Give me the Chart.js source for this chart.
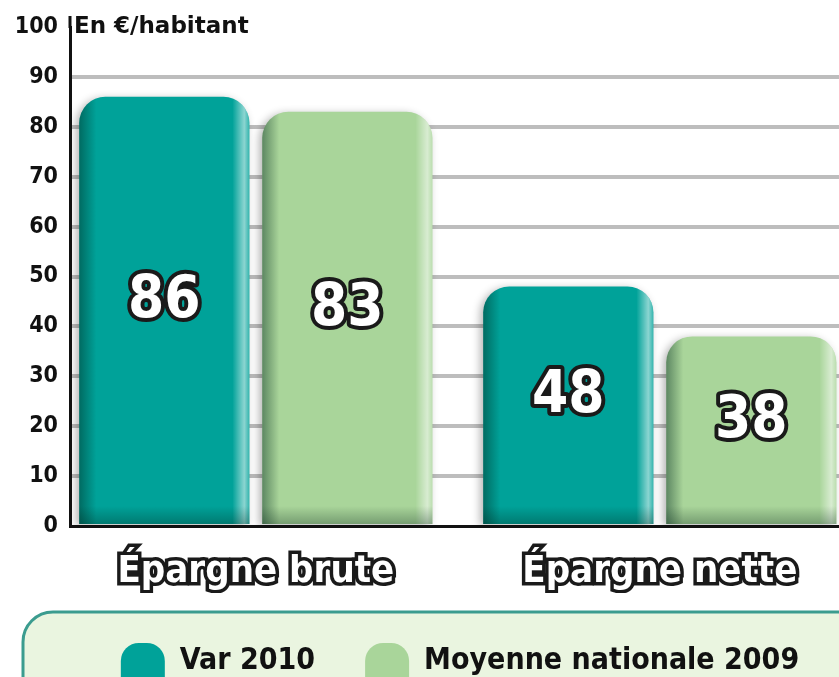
<!DOCTYPE html>
<html lang="fr">
<head>
<meta charset="utf-8">
<title>Épargne brute et nette</title>
<script src="https://cdn.jsdelivr.net/npm/chart.js@4/dist/chart.umd.min.js"></script>
<style>
  html, body { margin: 0; padding: 0; background: #fff; overflow: hidden; }
</style>
</head>
<body>
<canvas id="chart" width="920" height="689"></canvas>
<script>
// Data
const categories = ["Épargne brute", "Épargne nette"];
const seriesNames = ["Var 2010", "Moyenne nationale 2009"];
const var2010 = [86, 48];
const moyenne2009 = [83, 38];
const unitLabel = "En €/habitant";

const FONT = "'DejaVu Sans Condensed', 'Liberation Sans Narrow', Roboto, sans-serif";
const TEAL = "#00a299";
const GREEN = "#a9d59a";

// rounded box behind the legend
const legendBox = {
    id: "legendBox",
    beforeDraw(chart) {
        const lg = chart.legend, ctx = chart.ctx;
        if (!lg) return;
        ctx.save();
        ctx.beginPath();
        ctx.roundRect(23, lg.top + 19, chart.width - 46, lg.height + 60, 30);
        ctx.fillStyle = "#eaf5e0";
        ctx.fill();
        ctx.lineWidth = 3;
        ctx.strokeStyle = "#3b9c8f";
        ctx.stroke();
        ctx.restore();
    }
};

// soft shadow on bars
const barShadow = {
    id: "barShadow",
    beforeDatasetDraw(chart) {
        const ctx = chart.ctx;
        ctx.save();
        ctx.shadowColor = "rgba(0,0,0,0.3)";
        ctx.shadowBlur = 8;
        ctx.shadowOffsetX = -3;
        ctx.shadowOffsetY = 2;
    },
    afterDatasetDraw(chart) {
        chart.ctx.restore();
    }
};

// shading on the bars, unit title, value labels
const textLayer = {
    id: "textLayer",
    afterDatasetsDraw(chart) {
        const ctx = chart.ctx;
        const y = chart.scales.y;
        ctx.save();

        chart.data.datasets.forEach((ds, di) => {
            chart.getDatasetMeta(di).data.forEach((bar) => {
                const left = bar.x - bar.width / 2;
                const g = ctx.createLinearGradient(left, 0, left + bar.width, 0);
                g.addColorStop(0, "rgba(0,40,30,0.45)");
                g.addColorStop(0.1, "rgba(0,40,30,0)");
                g.addColorStop(0.9, "rgba(255,255,255,0)");
                g.addColorStop(0.97, "rgba(255,255,255,0.55)");
                g.addColorStop(1, "rgba(255,255,255,0.2)");
                ctx.beginPath();
                ctx.roundRect(left, bar.y, bar.width, bar.base - bar.y, [26, 26, 0, 0]);
                ctx.fillStyle = g;
                ctx.fill();
                const gb = ctx.createLinearGradient(0, bar.base - 18, 0, bar.base);
                gb.addColorStop(0, "rgba(0,30,20,0)");
                gb.addColorStop(1, "rgba(0,30,20,0.3)");
                ctx.fillStyle = gb;
                ctx.fillRect(left, bar.base - 18, bar.width, 18);
            });
        });

        // y axis line runs a little above the top tick
        const top = y.getPixelForValue(100);
        ctx.fillStyle = "#111";
        ctx.fillRect(chart.chartArea.left - 1.5, top - 11, 3, 12);

        ctx.font = "bold 23px 'DejaVu Sans', sans-serif";
        ctx.textBaseline = "middle";
        ctx.textAlign = "left";
        ctx.fillText(unitLabel, chart.chartArea.left + 4, top);

        ctx.font = "bold 58px " + FONT;
        ctx.textAlign = "center";
        ctx.lineJoin = "round";
        chart.data.datasets.forEach((ds, di) => {
            chart.getDatasetMeta(di).data.forEach((bar, i) => {
                const cy = (bar.y + bar.base) / 2 - 8;
                ctx.lineWidth = 8;
                ctx.strokeStyle = "#1a1a1a";
                ctx.strokeText(ds.data[i].y, bar.x, cy);
                ctx.fillStyle = "#fff";
                ctx.fillText(ds.data[i].y, bar.x, cy);
            });
        });
        ctx.restore();
    }
};

new Chart(document.getElementById("chart").getContext("2d"), {
    type: "bar",
    data: {
        datasets: [{
            label: seriesNames[0],
            data: var2010.map((v, i) => ({ x: i, y: v })),
            backgroundColor: TEAL
        }, {
            label: seriesNames[1],
            data: moyenne2009.map((v, i) => ({ x: i, y: v })),
            backgroundColor: GREEN
        }]
    },
    options: {
        responsive: false,
        animation: false,
        layout: { padding: { top: 27 } },
        datasets: {
            bar: {
                categoryPercentage: 0.906,
                barPercentage: 0.93,
                borderRadius: { topLeft: 26, topRight: 26 },
                borderSkipped: "bottom"
            }
        },
        scales: {
            x: {
                type: "linear",
                offset: false,
                min: -0.46,
                max: 1.644,
                afterBuildTicks: (s) => { s.ticks = categories.map((c, i) => ({ value: i })); },
                afterFit: (s) => { s.height = 67; },
                grid: { display: false },
                border: { color: "#111", width: 3 },
                ticks: {
                    autoSkip: false,
                    maxRotation: 0,
                    padding: 15,
                    color: "#fff",
                    textStrokeColor: "#1a1a1a",
                    textStrokeWidth: 7,
                    font: { family: FONT, size: 38, weight: "bold" },
                    callback: (v) => categories[v]
                }
            },
            y: {
                min: 0,
                max: 100,
                afterFit: (s) => { s.width = 70; },
                grid: {
                    drawTicks: false,
                    lineWidth: 4,
                    color: (c) => (c.tick.value === 0 || c.tick.value === 100) ? "rgba(0,0,0,0)" : "#bdbdbd"
                },
                border: { color: "#111", width: 3 },
                ticks: {
                    stepSize: 10,
                    padding: 12,
                    color: "#111",
                    font: { family: FONT, size: 23, weight: "bold" }
                }
            }
        },
        plugins: {
            legend: {
                position: "bottom",
                labels: {
                    boxWidth: 44,
                    boxHeight: 36,
                    padding: 50,
                    useBorderRadius: true,
                    borderRadius: { topLeft: 18, topRight: 18, bottomLeft: 0, bottomRight: 0 },
                    color: "#111",
                    font: { family: FONT, size: 30, weight: "bold" }
                }
            },
            tooltip: { enabled: false }
        }
    },
    plugins: [legendBox, barShadow, textLayer]
});
</script>
</body>
</html>
